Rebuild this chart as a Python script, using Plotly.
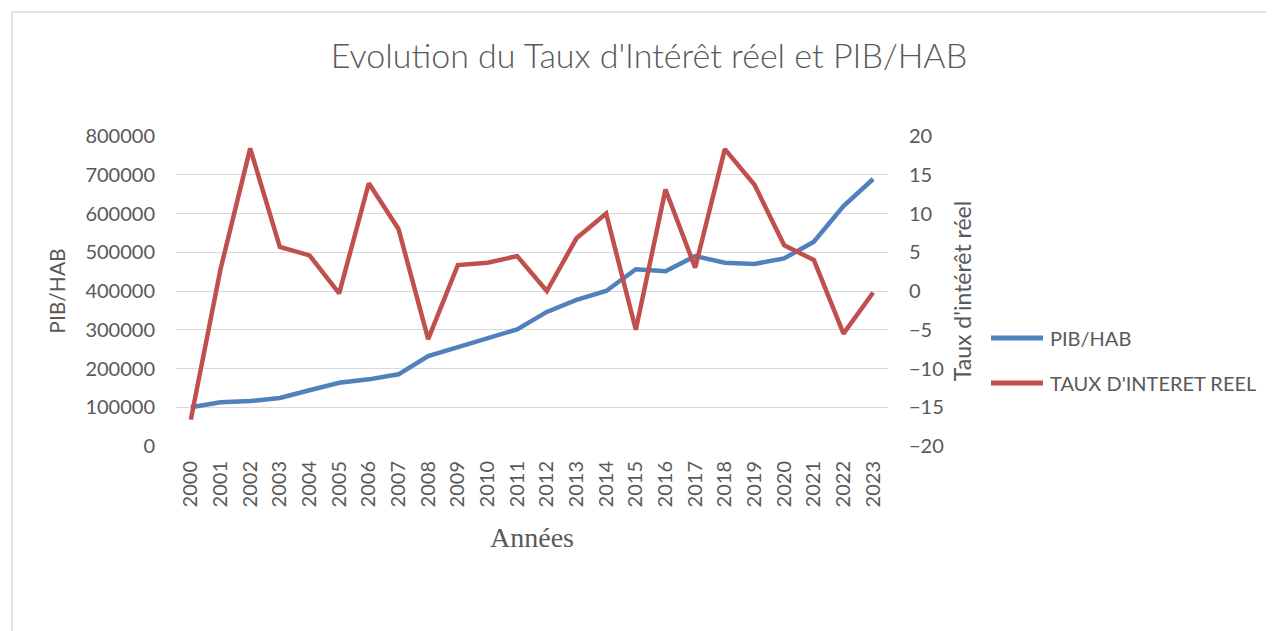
import plotly.graph_objects as go

years = [str(y) for y in range(2000, 2024)]
pib_hab = [100000, 113000, 116000, 124000, 144000, 163000, 172000, 185000,
           232000, 255000, 277000, 301000, 346000, 377000, 400000, 456000,
           451000, 490000, 473000, 470000, 484000, 527000, 619000, 689000]
taux_reel = [-16.6, 2.8, 18.4, 5.7, 4.6, -0.3, 13.9, 8.0, -6.2, 3.35, 3.65, 4.5,
             0.0, 6.8, 10.0, -5.0, 13.1, 3.0, 18.3, 13.7, 5.9, 4.0, -5.5, -0.2]

OFF = 8  # default body margin of the html page
W, H = 1274 - OFF, 631 - OFF
L, T = 176 - OFF, 136 - OFF
R = W - (888 - OFF)
B = H - (446 - OFF)
pw, ph = W - L - R, H - T - B


def px(x):
    return (x - OFF - L) / pw


def py(y):
    return (H - B - (y - OFF)) / ph


txt = "#595959"
grid = "#d9d9d9"
font_main = "Lato"
blue, red = "#4F81BD", "#C0504D"

fig = go.Figure()
fig.add_trace(go.Scatter(x=years, y=pib_hab, name="PIB/HAB", mode="lines",
                         line=dict(color=blue, width=4.5)))
fig.add_trace(go.Scatter(x=years, y=taux_reel, name="TAUX D'INTERET REEL", mode="lines",
                         line=dict(color=red, width=4.5), yaxis="y2"))

fig.update_layout(
    width=W, height=H,
    margin=dict(l=L, r=R, t=T, b=B),
    paper_bgcolor="white", plot_bgcolor="white",
    font=dict(family=font_main, color=txt, size=20),
    title=dict(text="Evolution du Taux d'Intérêt réel et PIB/HAB",
               xref="container", yref="container",
               x=(649 - OFF) / W, xanchor="center",
               y=1 - (56 - OFF) / H, yanchor="middle",
               font=dict(family=font_main, size=34, color=txt, weight=300)),
    xaxis=dict(type="category", range=[-0.5, 23.5], tickangle=-90,
               showgrid=False, zeroline=False, showline=False, ticks="",
               ticklabelstandoff=10,
               tickfont=dict(size=20, color=txt),
               title=dict(text="Années", standoff=20,
                          font=dict(family="Liberation Serif", size=28, color=txt))),
    yaxis=dict(range=[0, 800000], dtick=100000, showgrid=True, gridcolor=grid,
               gridwidth=1.3, zeroline=False, showline=False, ticks="",
               tickformat="d", ticklabelstandoff=20,
               tickfont=dict(size=20, color=txt),
               title=dict(text="PIB/HAB", standoff=14, font=dict(size=21, color=txt))),
    yaxis2=dict(range=[-20, 20], dtick=5, overlaying="y", side="right",
                showgrid=False, zeroline=False, showline=False, ticks="",
                ticklabelstandoff=20,
                tickfont=dict(size=20, color=txt),
                title=dict(text="Taux d'intérêt réel", standoff=12,
                           font=dict(size=23, color=txt))),
    showlegend=False,
)

# chart frame
fig.add_shape(type="rect", xref="paper", yref="paper",
              x0=px(12), x1=px(1300), y0=py(660), y1=py(12),
              line=dict(color=grid, width=1.5), fillcolor="rgba(0,0,0,0)", layer="below")

# legend (drawn to match the reference's long line keys)
for tr, ypix in zip(fig.data, [338, 383]):
    fig.add_shape(type="line", xref="paper", yref="paper",
                  x0=px(991), x1=px(1043), y0=py(ypix), y1=py(ypix),
                  line=dict(color=tr.line.color, width=5))
    fig.add_annotation(text=tr.name, xref="paper", yref="paper",
                       x=px(1048), y=py(ypix), xanchor="left", yanchor="middle",
                       showarrow=False, font=dict(size=20, color=txt))

fig.write_html("out.html")
